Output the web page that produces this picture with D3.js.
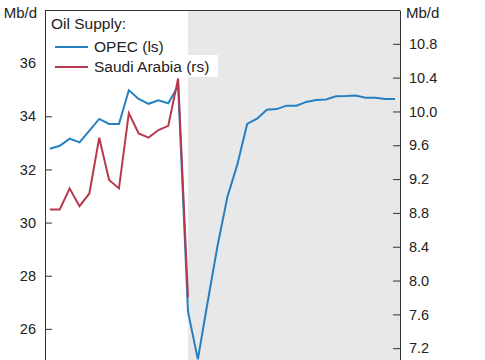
<!DOCTYPE html>
<html>
<head>
<meta charset="utf-8">
<script src="https://cdn.jsdelivr.net/npm/d3@7"></script>
<style>
  body { margin: 0; background: #fff; overflow: hidden; }
  text { font-family: "Liberation Sans", Arial, sans-serif; fill: #222; }
</style>
</head>
<body>
<div id="chart"></div>
<script>
// monthly points, index 0..35
let months = d3.range(36);

// OPEC supply, Mb/d (left scale)
let opec = [32.78, 32.89, 33.16, 33.02, 33.46, 33.9, 33.71, 33.71, 34.98, 34.65,
            34.47, 34.6, 34.49, 35.15, 26.65, 24.85, 27.02, 29.13, 30.97, 32.18,
            33.71, 33.91, 34.25, 34.27, 34.4, 34.4, 34.54, 34.61, 34.63, 34.75,
            34.76, 34.78, 34.7, 34.7, 34.65, 34.65];

// Saudi Arabia supply, Mb/d (right scale)
let saudi = [8.84, 8.84, 9.09, 8.88, 9.03, 9.69, 9.19, 9.09, 9.98, 9.74,
             9.69, 9.78, 9.83, 10.39, 7.8];

let leftTicks = [26, 28, 30, 32, 34, 36];
let rightTicks = [7.2, 7.6, 8.0, 8.4, 8.8, 9.2, 9.6, 10.0, 10.4, 10.8];
let shadeFrom = 14; // first month of shaded period

let width = 485, height = 360;
let mLeft = 45, mRight = 400, mTop = 10, mBottom = 382;

let svg = d3.select("#chart").append("svg")
    .attr("width", width)
    .attr("height", height);

let x = d3.scalePoint()
    .domain(months)
    .range([mLeft, mRight])
    .padding(0.5);

let yL = d3.scaleLinear().domain([24, 38]).range([mBottom, mTop]);
let yR = d3.scaleLinear().domain([6.8, 11.2]).range([mBottom, mTop]);

// shaded period
svg.append("rect")
    .attr("x", x(shadeFrom))
    .attr("y", mTop)
    .attr("width", mRight - x(shadeFrom))
    .attr("height", mBottom - mTop)
    .attr("fill", "#e8e8e8");

// axes (ticks pointing inward)
let axL = svg.append("g")
    .attr("transform", `translate(${mLeft},0)`)
    .call(d3.axisLeft(yL).tickValues(leftTicks).tickSizeInner(-7).tickSizeOuter(0).tickPadding(9).tickFormat(d3.format("d")));
let axR = svg.append("g")
    .attr("transform", `translate(${mRight},0)`)
    .call(d3.axisRight(yR).tickValues(rightTicks).tickSizeInner(-7).tickSizeOuter(0).tickPadding(9).tickFormat(d3.format(".1f")));

[axL, axR].forEach(ax => {
    ax.select(".domain").attr("stroke", "#333");
    ax.selectAll(".tick line").attr("stroke", "#333");
    ax.selectAll(".tick text")
        .attr("font-size", 14.5)
        .attr("font-family", "Liberation Sans, Arial, sans-serif")
        .attr("fill", "#222");
});

// top border
svg.append("line")
    .attr("x1", mLeft).attr("x2", mRight)
    .attr("y1", mTop + 0.5).attr("y2", mTop + 0.5)
    .attr("stroke", "#333");

// units
svg.append("text").text("Mb/d")
    .attr("x", 37).attr("y", 18)
    .attr("text-anchor", "end")
    .attr("font-size", 15);
svg.append("text").text("Mb/d")
    .attr("x", 406).attr("y", 18)
    .attr("font-size", 15);

// lines
let lineL = d3.line().x((d, i) => x(months[i])).y(d => yL(d));
let lineR = d3.line().x((d, i) => x(months[i])).y(d => yR(d));

svg.append("path")
    .datum(opec)
    .attr("d", lineL)
    .attr("fill", "none")
    .attr("stroke", "#2580c3")
    .attr("stroke-width", 2);

svg.append("path")
    .datum(saudi)
    .attr("d", lineR)
    .attr("fill", "none")
    .attr("stroke", "#b8394d")
    .attr("stroke-width", 2);

// legend
let legend = svg.append("g");
legend.append("rect")
    .attr("x", mLeft + 1).attr("y", 55)
    .attr("width", 172).attr("height", 22)
    .attr("fill", "#fff");
legend.append("text").text("Oil Supply:")
    .attr("x", 51).attr("y", 29)
    .attr("font-size", 15.5);

let items = [
    { name: "OPEC (ls)", color: "#2580c3" },
    { name: "Saudi Arabia (rs)", color: "#b8394d" }
];
items.forEach((it, i) => {
    let yy = 47 + i * 20;
    legend.append("line")
        .attr("x1", 55).attr("x2", 88)
        .attr("y1", yy).attr("y2", yy)
        .attr("stroke", it.color)
        .attr("stroke-width", 2);
    legend.append("text").text(it.name)
        .attr("x", 94).attr("y", yy + 5)
        .attr("font-size", 15.5);
});
</script>
</body>
</html>
